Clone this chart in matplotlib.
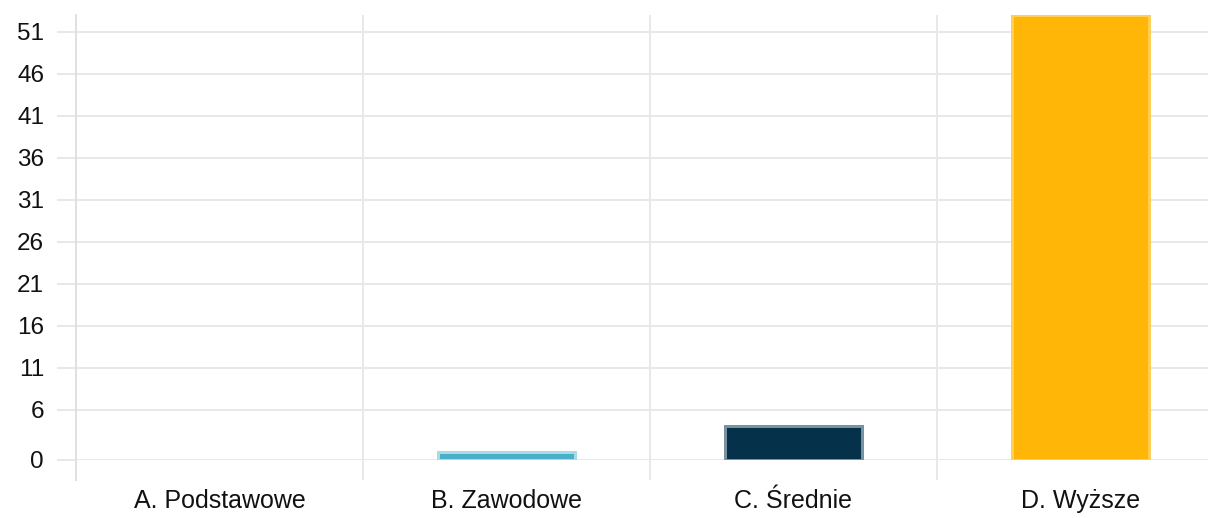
import matplotlib
matplotlib.use("Agg")
import matplotlib.pyplot as plt
import numpy as np

# data
categories = ["A. Podstawowe", "B. Zawodowe", "C. Średnie", "D. Wyższe"]
values = [0, 1, 4, 53]
y_ticks = [0, 6, 11, 16, 21, 26, 31, 36, 41, 46, 51]

# styles
face_colors = ["#4ab0ca", "#4ab0ca", "#05314a", "#ffb606"]
edge_colors = ["#a9dbe7", "#a9dbe7", "#7a929f", "#ffcf55"]
grid_color = "#e8e8e8"
px = 72 / 100  # one pixel in points

plt.rcParams["font.family"] = ["Liberation Sans", "DejaVu Sans"]

fig = plt.figure(figsize=(12.08, 5.18), dpi=100)
W, H = 1208, 518
ax = fig.add_axes([76 / W, (H - 460) / H, 1148 / W, 445 / H])

x = np.arange(len(categories))
# no outline on empty bars
widths = [3 * px if v > 0 else 0 for v in values]
ax.bar(x, values, width=0.48, color=face_colors, edgecolor=edge_colors,
       linewidth=widths, zorder=3)

ax.set_xlim(-0.5, 3.5)
ax.set_ylim(0, 53)

# y axis
ax.set_yticks(y_ticks)
ax.tick_params(axis="y", length=19 * px, width=2 * px, color=grid_color,
               pad=13 * px, labelsize=17.5, labelcolor="#111111")
ax.yaxis.grid(True, color=grid_color, linewidth=2 * px, zorder=0)

# x axis: labels at centers, lines at category borders
ax.set_xticks(x)
ax.set_xticklabels(categories)
ax.set_xticks(x[:-1] + 0.5, minor=True)
ax.tick_params(axis="x", which="major", length=0, pad=29 * px,
               labelsize=18, labelcolor="#111111")
ax.tick_params(axis="x", which="minor", length=20 * px, width=2 * px,
               color=grid_color)
ax.xaxis.grid(True, which="minor", color=grid_color, linewidth=2 * px, zorder=0)

for s in ["top", "right", "bottom"]:
    ax.spines[s].set_visible(False)
ax.spines["left"].set_color("#e0e0e0")
ax.spines["left"].set_linewidth(2 * px)
ax.spines["left"].set_bounds(0, 53)
ax.axhline(0, color="#d8d8d8", linewidth=2 * px, zorder=1)
ax.plot([-0.5, -0.5], [0, -2.4], color="#e0e0e0", linewidth=2 * px,
        clip_on=False, zorder=1)

fig.savefig("out.png", dpi=100)
